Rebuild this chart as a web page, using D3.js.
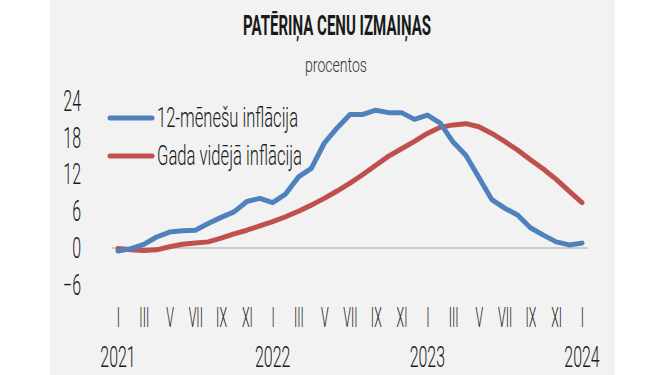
<!DOCTYPE html>
<html>
<head>
<meta charset="utf-8">
<script src="https://cdn.jsdelivr.net/npm/d3@7"></script>
<style>
  body { margin: 0; background: #fff; }
  text { font-family: Roboto, "Open Sans", sans-serif; fill: #1a1a1a; }
</style>
</head>
<body>
<div id="chart"></div>
<script>
// months Jan 2021 .. Jan 2024
var monthNames = ["I","II","III","IV","V","VI","VII","VIII","IX","X","XI","XII"];
var months = d3.range(37);
var tickMonths = months.filter(function(m) { return m % 2 == 0; });
var years = ["2021", "2022", "2023", "2024"];
var yTicks = [-6, 0, 6, 12, 18, 24];

var seriesNames = ["12-mēnešu inflācija", "Gada vidējā inflācija"];
var inflation12 = [-0.5, -0.1, 0.6, 1.8, 2.6, 2.8, 2.9, 4.0, 5.0, 5.9, 7.6, 8.1,
                   7.4, 8.8, 11.6, 13.0, 17.1, 19.6, 21.8, 21.8, 22.5, 22.1, 22.1, 21.0,
                   21.7, 20.4, 17.3, 15.1, 11.5, 7.9, 6.5, 5.4, 3.3, 2.1, 1.0, 0.5, 0.8];
var inflationAvg = [-0.1, -0.3, -0.4, -0.3, 0.2, 0.6, 0.8, 1.0, 1.6, 2.3, 2.9, 3.6,
                    4.3, 5.1, 6.0, 7.0, 8.1, 9.3, 10.6, 12.0, 13.5, 15.0, 16.2, 17.4,
                    18.7, 19.7, 20.1, 20.3, 19.8, 18.7, 17.4, 16.0, 14.4, 12.9, 11.2, 9.3, 7.4];
var colors = ["#4f81bd", "#c0504d"];

var width = 665, height = 375;

var svg = d3.select("#chart")
    .append("svg")
    .attr("width", width)
    .attr("height", height);

// grey panel
svg.append("rect")
    .attr("x", 50).attr("y", 0)
    .attr("width", 565).attr("height", height)
    .attr("fill", "#f2f2f2");

// squeeze text horizontally to look like a condensed face
function condense(sel, k) {
    sel.each(function() {
        var w = this.getComputedTextLength();
        d3.select(this).attr("textLength", w * k).attr("lengthAdjust", "spacingAndGlyphs");
    });
}
function fitWidth(sel, w) {
    sel.attr("textLength", w).attr("lengthAdjust", "spacingAndGlyphs");
}

var x = d3.scaleLinear()
    .domain([0, 36])
    .range([118, 582]);

var y = d3.scaleLinear()
    .domain([-6, 24])
    .range([284.75, 101]);

// title
svg.append("text")
    .attr("x", 337).attr("y", 35)
    .attr("text-anchor", "middle")
    .style("font-size", "27px")
    .style("font-weight", "bold")
    .text("PATĒRIŅA CENU IZMAIŅAS")
    .call(fitWidth, 188);

svg.append("text")
    .attr("x", 336).attr("y", 72)
    .attr("text-anchor", "middle")
    .style("font-size", "21px")
    .style("font-weight", 300)
    .style("fill", "#333")
    .text("procentos")
    .call(fitWidth, 62);

// zero line
svg.append("line")
    .attr("x1", 112).attr("x2", 588)
    .attr("y1", y(0)).attr("y2", y(0))
    .attr("stroke", "#a6a6a6")
    .attr("stroke-width", 1);

// y labels
var yAxis = svg.append("g")
    .attr("transform", "translate(88,0)")
    .call(d3.axisLeft(y).tickValues(yTicks).tickSize(0).tickPadding(7));
yAxis.select(".domain").remove();
yAxis.selectAll("text")
    .attr("fill", "#1a1a1a")
    .style("font-size", "29px")
    .style("font-weight", 300)
    .call(condense, 0.55);

// month labels (scaled, not textLength, so the boxes stay narrow)
var xAxis = svg.append("g")
    .attr("transform", "translate(0,308)")
    .call(d3.axisBottom(x).tickValues(tickMonths).tickSize(0).tickPadding(0)
        .tickFormat(function(m) { return monthNames[m % 12]; }));
xAxis.select(".domain").remove();
xAxis.selectAll("text")
    .attr("fill", "#1a1a1a")
    .attr("dy", "0.71em")
    .attr("transform", "scale(0.46,1)")
    .style("font-size", "27px")
    .style("font-weight", 300);

// year labels
svg.append("g")
    .selectAll("text")
    .data(years)
    .enter().append("text")
    .attr("x", function(d, i) { return x(i * 12); })
    .attr("y", 367)
    .attr("text-anchor", "middle")
    .style("font-size", "29px")
    .style("font-weight", 300)
    .text(function(d) { return d; })
    .call(condense, 0.55);

// lines
var line = d3.line()
    .x(function(d, i) { return x(i); })
    .y(function(d) { return y(d); });

[inflationAvg, inflation12].forEach(function(s, j) {
    svg.append("path")
        .datum(s)
        .attr("d", line)
        .attr("fill", "none")
        .attr("stroke", colors[1 - j])
        .attr("stroke-width", 5)
        .attr("stroke-linejoin", "round")
        .attr("stroke-linecap", "round");
});

// legend
var legendY = [118, 156];
var legendW = [141, 145];
var legend = svg.append("g");
seriesNames.forEach(function(name, i) {
    legend.append("line")
        .attr("x1", 110).attr("x2", 152)
        .attr("y1", legendY[i]).attr("y2", legendY[i])
        .attr("stroke", colors[i])
        .attr("stroke-width", 5)
        .attr("stroke-linecap", "round");
    legend.append("text")
        .attr("x", 157).attr("y", legendY[i] + 9)
        .style("font-size", "28px")
        .style("font-weight", 300)
        .text(name)
        .call(fitWidth, legendW[i]);
});
</script>
</body>
</html>
